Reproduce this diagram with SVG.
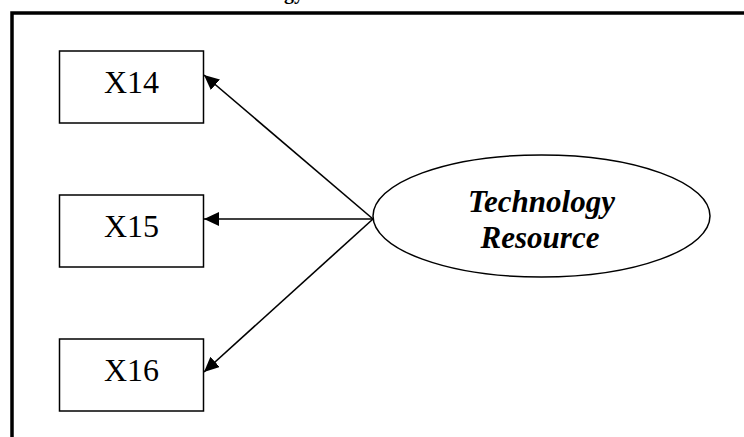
<svg xmlns="http://www.w3.org/2000/svg" width="744" height="437" viewBox="0 0 744 437">
  <style>
    .box { fill: #fff; stroke: #000; stroke-width: 1.5; }
    .lbl { font-family: "Liberation Serif", "Times New Roman", serif; font-size: 32px; fill: #000; text-anchor: middle; }
    .lat { font-family: "Liberation Serif", "Times New Roman", serif; font-size: 31px; font-weight: bold; font-style: italic; fill: #000; text-anchor: middle; }
    .edge { stroke: #000; stroke-width: 1.6; fill: none; marker-end: url(#arrow); }
  </style>
  <defs>
    <marker id="arrow" markerUnits="userSpaceOnUse" markerWidth="16" markerHeight="14" refX="15" refY="7" orient="auto">
      <path d="M0,0 L15,7 L0,14 Z" fill="#000"/>
    </marker>
  </defs>
  <rect width="744" height="437" fill="#fff"/>

  <!-- heading, cropped at the top edge -->
  <text x="304" y="-1" font-family="'Liberation Serif', 'Times New Roman', serif" font-size="20" font-weight="bold" text-anchor="end">Technology</text>

  <!-- outer frame (open on right and bottom) -->
  <path d="M12,437 V13 H744" fill="none" stroke="#000" stroke-width="3.5"/>

  <g id="connectors">
    <line class="edge" x1="373" y1="219" x2="204" y2="75"/>
    <line class="edge" x1="373" y1="219" x2="204" y2="219"/>
    <line class="edge" x1="373" y1="219" x2="204" y2="372"/>
  </g>

  <g id="x14">
    <rect class="box" x="59.5" y="51" width="144" height="72"/>
    <text class="lbl" x="131.5" y="93">X14</text>
  </g>
  <g id="x15">
    <rect class="box" x="59.5" y="195" width="144" height="72"/>
    <text class="lbl" x="131.5" y="237">X15</text>
  </g>
  <g id="x16">
    <rect class="box" x="59.5" y="339" width="144" height="72"/>
    <text class="lbl" x="131.5" y="381">X16</text>
  </g>

  <g id="technology-resource">
    <ellipse class="box" cx="541.5" cy="216" rx="168.5" ry="61"/>
    <text class="lat" x="541.5" y="212">Technology</text>
    <text class="lat" x="540" y="248">Resource</text>
  </g>
</svg>
